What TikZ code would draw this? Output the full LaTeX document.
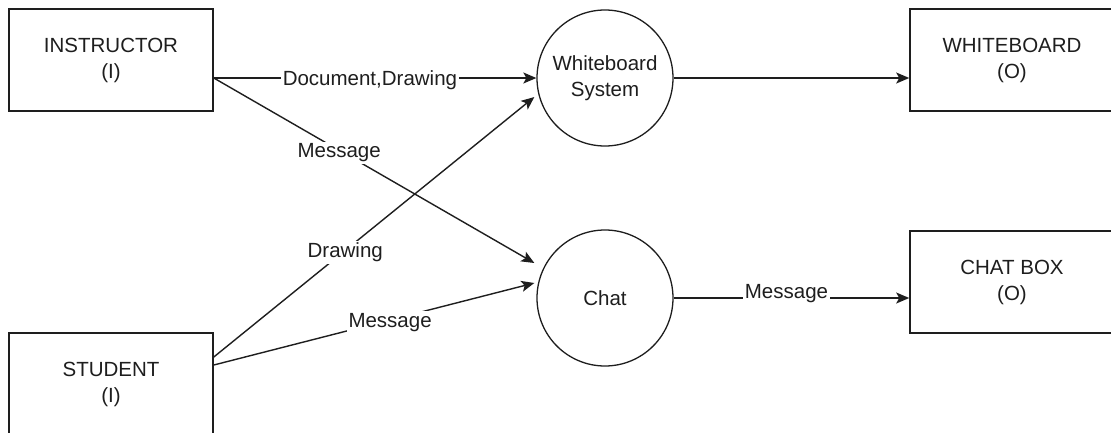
\documentclass[tikz,border=0pt]{standalone}
\usepackage{fontspec}
\setmainfont{Liberation Sans}
\usetikzlibrary{arrows.meta}
\definecolor{ink}{HTML}{1E1E1E}
\begin{document}
\begin{tikzpicture}[x=1pt,y=-1pt,
  every node/.style={font=\fontsize{20.5}{26}\selectfont, text=ink},
  boxnode/.style={draw=ink, line width=1.6pt, minimum width=204pt, minimum height=102pt, align=center, inner sep=0pt},
  procnode/.style={draw=ink, circle, line width=1.3pt, minimum size=136pt, align=center, inner sep=0pt},
  flow/.style={draw=ink, line width=1.4pt, -{Stealth[length=13pt,width=11pt,inset=3pt]}},
  lbl/.style={fill=white, inner xsep=2pt, inner ysep=2pt, anchor=base, yshift=-7.3pt},
  lblon/.style={fill=white, inner xsep=2pt, inner ysep=1pt, anchor=base}]
\useasboundingbox (0,0) rectangle (1111,432);
\fill[white] (0,0) rectangle (1111,432);

\node[boxnode] (instr) at (111,60) {INSTRUCTOR\\(I)};
\node[boxnode] (stud) at (111,384) {STUDENT\\(I)};
\node[procnode] (ws) at (605,78) {Whiteboard\\System};
\node[procnode] (chat) at (605,298) {Chat};
\node[boxnode] (wb) at (1012,60) {WHITEBOARD\\(O)};
\node[boxnode] (cb) at (1012,282) {CHAT BOX\\(O)};

\coordinate (iout) at ([yshift=-18pt]instr.east);
\coordinate (sup) at ([yshift=27pt]stud.east);
\coordinate (slo) at ([yshift=19pt]stud.east);
\coordinate (ws2) at ([shift={(-2pt,-19pt)}]ws.west);
\coordinate (c1) at ([shift={(-2pt,35pt)}]chat.west);
\coordinate (c2) at ([shift={(-2pt,15pt)}]chat.west);
\coordinate (wbin) at ([yshift=-18pt]wb.west);
\coordinate (cbin) at ([yshift=-16pt]cb.west);

\draw[flow] (iout) -- node[lbl, pos=0.484] {Document,Drawing} (ws.west);
\draw[flow] (iout) -- node[lbl, pos=0.391] {Message} (c1);
\draw[flow] (sup) -- node[lbl, pos=0.41] {Drawing} (ws2);
\draw[flow] (slo) -- node[lbl, pos=0.55] {Message} (c2);
\draw[flow] (ws.east) -- (wbin);
\draw[flow] (chat.east) -- node[lblon, pos=0.479] {Message} (cbin);
\end{tikzpicture}
\end{document}
